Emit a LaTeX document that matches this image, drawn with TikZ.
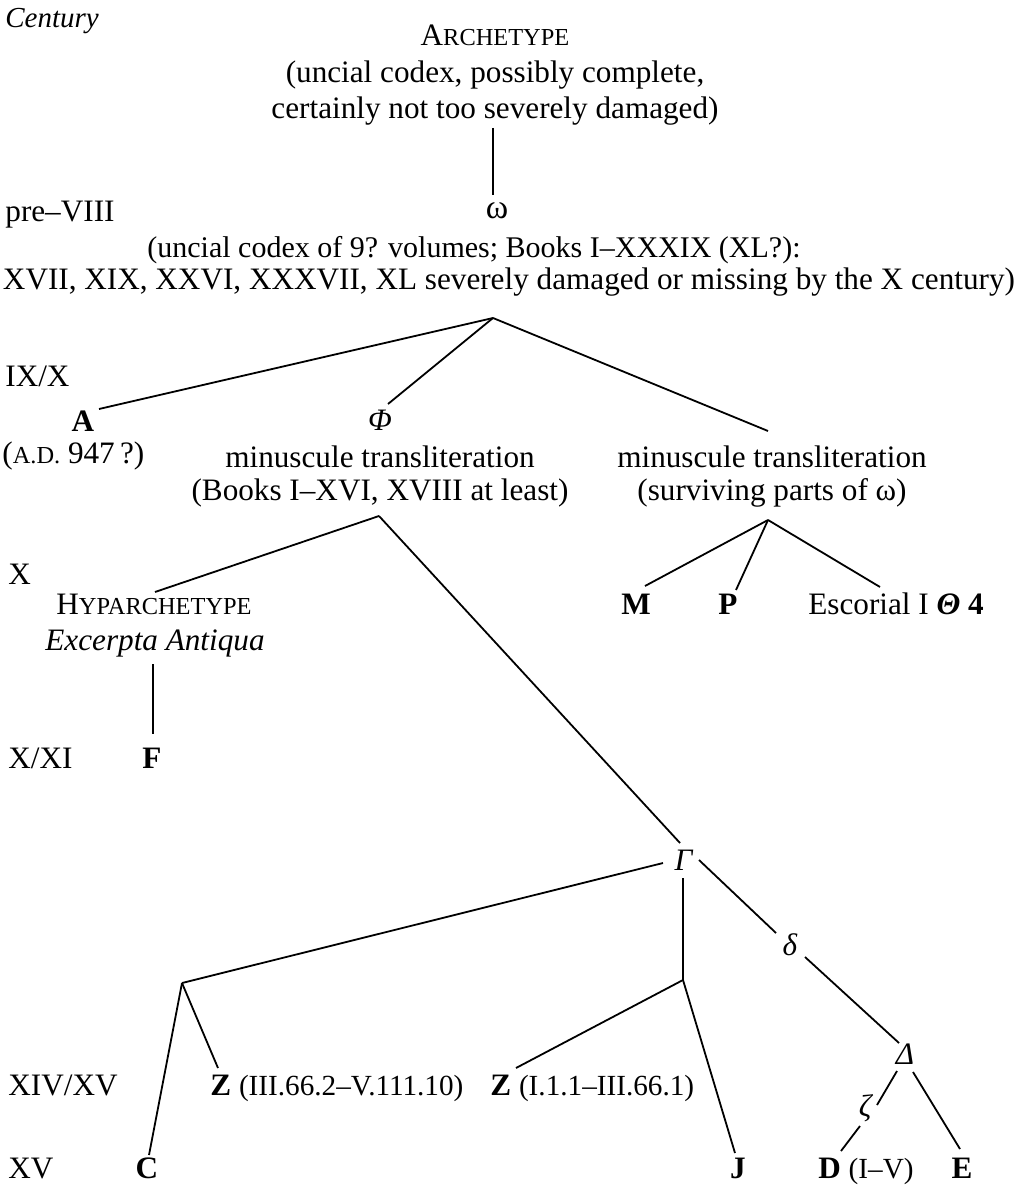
\documentclass[tikz,border=0pt]{standalone}
\usepackage{fontspec}
\setmainfont{Liberation Serif}
\newcommand\smc[1]{{\fontsize{12.2}{15}\selectfont #1}}
\newcommand\paren[1]{{\fontsize{14.6}{18}\selectfont #1}}
\begin{document}
\begin{tikzpicture}[x=0.5pt,y=-0.5pt,
  t/.style={inner sep=0pt, anchor=base, font=\fontsize{15.6}{19}\selectfont},
  tw/.style={t, anchor=base west},
  edge/.style={line width=0.9pt}]
\useasboundingbox (0,0) rectangle (1019,1192);
% century column
\node[tw, font=\fontsize{14.5}{17}\selectfont] (cent) at (5,28) {\textit{Century}};
\node[tw] (c1) at (5,222) {pre–VIII};
\node[tw] (c2) at (5,386) {IX/X};
\node[tw] (c3) at (8,584) {X};
\node[tw] (c4) at (8,768) {X/XI};
\node[tw] (c5) at (8,1095) {XIV/XV};
\node[tw] (c6) at (8,1178) {XV};
% archetype
\node[t] (arch) at (495,46) {A\smc{RCHETYPE}};
\node[t] (arch2) at (495,83) {(uncial codex, possibly complete,};
\node[t] (arch3) at (495,119) {certainly not too severely damaged)};
\coordinate (archb) at (493,128);
\coordinate (omt) at (493,195);
\node[t, font=\fontsize{17}{19}\selectfont] (om) at (497,219) {ω};
\node[t, font=\fontsize{15}{19}\selectfont] (om2) at (474,258) {(uncial codex of 9? volumes; Books I–XXXIX (XL?):};
\node[t] (om3) at (509,290) {XVII, XIX, XXVI, XXXVII, XL severely damaged or missing by the X century)};
\coordinate (omb) at (493,318);
% level IX/X
\node[t] (A) at (83,431) {\textbf{A}};
\coordinate (Atop) at (99,409);
\node[tw] (Adate) at (2,463) {(\smc{A.D.} 947\,?)};
\node[t] (phi) at (380,430) {\textit{Φ}};
\coordinate (phitop) at (388,404);
\node[t] (phi2) at (380,467) {minuscule transliteration};
\node[t] (phi3) at (380,500) {(Books I–XVI, XVIII at least)};
\coordinate (phib) at (379,516);
\coordinate (rtop) at (768,431);
\node[t] (r2) at (772,467) {minuscule transliteration};
\node[t] (r3) at (772,500) {(surviving parts of ω)};
\coordinate (rb) at (768,520);
% level X
\coordinate (hytop) at (155,592);
\node[t] (hy) at (154,614) {H\smc{YPARCHETYPE}};
\node[t] (hy2) at (155,650) {\textit{Excerpta Antiqua}};
\coordinate (hyb) at (153,664);
\coordinate (Ftop) at (153,734);
\node[t] (F) at (152,768) {\textbf{F}};
\node[t] (M) at (636,614) {\textbf{M}};
\coordinate (Mtop) at (645,586);
\node[t] (P) at (728,614) {\textbf{P}};
\coordinate (Ptop) at (736,590);
\node[tw] (Esc) at (808,614) {Escorial I \textbf{\textit{Θ} 4}};
\coordinate (Etop) at (880,587);
% gamma
\node[t] (G) at (684,870) {\textit{Γ}};
\coordinate (Gtop) at (680,843);
\coordinate (Gl) at (663,863);
\coordinate (Gb) at (683,878);
\coordinate (Gr) at (699,860);
\coordinate (jl) at (182,983);
\coordinate (jm) at (683,980);
\node[t] (del) at (790,955) {\textit{δ}};
\coordinate (delt) at (776,933);
\coordinate (delb) at (805,957);
\node[t] (Del) at (905,1064) {\textit{Δ}};
\coordinate (Delt) at (899,1043);
\coordinate (Dell) at (897,1071);
\coordinate (Delr) at (913,1072);
\node[t] (zeta) at (866,1116) {\textit{ζ}};
\coordinate (zt) at (877,1105);
\coordinate (zb) at (860,1126);
% bottom
\node[tw] (Z1) at (210,1095) {\textbf{Z} \paren{(III.66.2–V.111.10)}};
\coordinate (Z1t) at (218,1068);
\node[tw] (Z2) at (490,1095) {\textbf{Z} \paren{(I.1.1–III.66.1)}};
\coordinate (Z2t) at (516,1068);
\node[t] (C) at (147,1178) {\textbf{C}};
\coordinate (Ct) at (149,1155);
\node[t] (J) at (738,1178) {\textbf{J}};
\coordinate (Jt) at (735,1153);
\node[tw] (D) at (818,1178) {\textbf{D} \paren{(I–V)}};
\coordinate (Dt) at (841,1151);
\node[t] (E) at (962,1178) {\textbf{E}};
\coordinate (Et) at (960,1149);
% edges
\draw[edge] (archb) -- (omt);
\draw[edge] (omb) -- (Atop);
\draw[edge] (omb) -- (phitop);
\draw[edge] (omb) -- (rtop);
\draw[edge] (phib) -- (hytop);
\draw[edge] (phib) -- (Gtop);
\draw[edge] (rb) -- (Mtop);
\draw[edge] (rb) -- (Ptop);
\draw[edge] (rb) -- (Etop);
\draw[edge] (hyb) -- (Ftop);
\draw[edge] (Gl) -- (jl);
\draw[edge] (Gb) -- (jm);
\draw[edge] (Gr) -- (delt);
\draw[edge] (delb) -- (Delt);
\draw[edge] (jl) -- (Ct);
\draw[edge] (jl) -- (Z1t);
\draw[edge] (jm) -- (Z2t);
\draw[edge] (jm) -- (Jt);
\draw[edge] (Dell) -- (zt);
\draw[edge] (zb) -- (Dt);
\draw[edge] (Delr) -- (Et);
\end{tikzpicture}
\end{document}
